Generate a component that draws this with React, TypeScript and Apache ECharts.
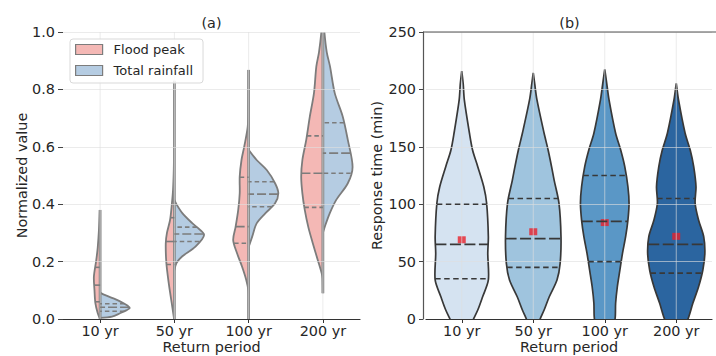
import React, { useEffect, useRef } from "react";
import * as echarts from "echarts";

// ---------------- data ----------------
const categories = ["10 yr", "50 yr", "100 yr", "200 yr"];

// Panel (a): split violins (left half = Flood peak, right half = Total rainfall)
// levels = normalized value, density = relative half-width (1 = widest half)
const floodLevels = [
  [0, 0.02, 0.055, 0.1, 0.147, 0.205, 0.25, 0.31, 0.38],
  [0, 0.056, 0.125, 0.195, 0.264, 0.3, 0.345, 0.4, 0.45, 0.52, 0.6, 0.7, 0.83],
  [0, 0.05, 0.1, 0.136, 0.182, 0.229, 0.275, 0.32, 0.38, 0.438, 0.496, 0.554, 0.6, 0.67, 0.75, 0.868],
  [0.09, 0.14, 0.159, 0.205, 0.264, 0.32, 0.38, 0.438, 0.496, 0.554, 0.624, 0.705, 0.787, 0.88, 0.93, 1.0, 1.05],
];
const floodDensity = [
  [0, 0.08, 0.16, 0.19, 0.21, 0.13, 0.08, 0.04, 0.01],
  [0.01, 0.09, 0.19, 0.27, 0.29, 0.25, 0.145, 0.085, 0.045, 0.02, 0.01, 0.007, 0.003],
  [0.003, 0.005, 0.01, 0.08, 0.22, 0.39, 0.52, 0.44, 0.35, 0.3, 0.3, 0.24, 0.15, 0.03, 0.01, 0.003],
  [0, 0.01, 0.04, 0.17, 0.34, 0.49, 0.61, 0.69, 0.73, 0.69, 0.56, 0.44, 0.3, 0.22, 0.13, 0.05, 0.02],
];
const floodQuartiles = [
  [0.06, 0.118, 0.18],
  [0.19, 0.27, 0.353],
  [0.264, 0.322, 0.494],
  [0.389, 0.508, 0.638],
];

const rainLevels = [
  [0.004, 0.008, 0.02, 0.03, 0.038, 0.046, 0.055, 0.064, 0.072, 0.084, 0.092],
  [0.17, 0.195, 0.217, 0.252, 0.293, 0.32, 0.334, 0.37, 0.4, 0.415],
  [0.25, 0.287, 0.333, 0.368, 0.403, 0.438, 0.473, 0.519, 0.554, 0.59],
  [0.3, 0.32, 0.368, 0.415, 0.473, 0.53, 0.624, 0.705, 0.787, 0.88, 0.93, 1.0, 1.05],
];
const rainDensity = [
  [0, 0.4, 0.67, 0.88, 1.0, 0.93, 0.79, 0.62, 0.45, 0.15, 0],
  [0, 0.07, 0.25, 0.71, 1.0, 0.76, 0.6, 0.26, 0.07, 0],
  [0, 0.12, 0.27, 0.56, 0.89, 1.0, 0.89, 0.61, 0.27, 0],
  [0, 0.06, 0.23, 0.45, 0.84, 1.0, 0.84, 0.67, 0.4, 0.24, 0.13, 0.05, 0.02],
];
const rainQuartiles = [
  [0.027, 0.041, 0.053],
  [0.27, 0.296, 0.32],
  [0.391, 0.435, 0.478],
  [0.508, 0.578, 0.684],
];

// Panel (b): response time violins (min)
const responseLevels = [
  [216, 205, 190.8, 161.8, 147, 132.7, 115.2, 100.8, 71.7, 57.2, 34, 19.4, 7.8, 0, -10, -22],
  [214.5, 205, 190.8, 161.8, 147.2, 132.7, 121, 100.8, 71.7, 48.5, 34, 19.4, 7.8, 0, -10, -20],
  [217.5, 205, 190.8, 161.8, 147, 132.7, 115.2, 100.8, 86.2, 71.7, 57.2, 42.7, 28.1, 13.7, 0, -15, -30],
  [205.3, 190.8, 161.8, 147, 132.7, 115.2, 100.8, 86.2, 71.7, 57.2, 42.7, 28.1, 13.7, 0, -10, -22],
];
const responseDensity = [
  [0, 0.05, 0.09, 0.27, 0.38, 0.56, 0.77, 0.87, 0.93, 0.91, 0.93, 0.73, 0.56, 0.41, 0.21, 0],
  [0, 0.05, 0.13, 0.38, 0.52, 0.64, 0.73, 0.9, 0.97, 0.94, 0.83, 0.56, 0.38, 0.24, 0.09, 0],
  [0, 0.07, 0.15, 0.38, 0.56, 0.7, 0.81, 0.85, 0.81, 0.73, 0.62, 0.53, 0.44, 0.38, 0.36, 0.21, 0],
  [0, 0.08, 0.31, 0.49, 0.61, 0.69, 0.66, 0.78, 0.96, 1.0, 0.93, 0.78, 0.58, 0.41, 0.21, 0],
];
const responseQuartiles = [
  [35, 65, 100],
  [45, 70, 105],
  [50, 85, 125],
  [40, 65, 105],
];
const responseMean = [69, 76, 84, 72];

// ---------------- styles ----------------
const FONT = "DejaVu Sans";
const TEXT = "#262626";
const GRID = "rgba(222,222,222,0.62)";
const PINK = "#f4b8b5";
const BLUE = "#b5cce2";
const GRAY = "#7c7c7c";
const VIOLIN_B = ["#d5e3f1", "#9fc4de", "#5a97c6", "#2b65a0"];
const DARK = "#383838";

function interp(levels: number[], dens: number[], v: number) {
  for (let k = 1; k < levels.length; k++) {
    const a = levels[k - 1];
    const b = levels[k];
    if ((v - a) * (v - b) <= 0 && a !== b) {
      const t = (v - a) / (b - a);
      return dens[k - 1] + t * (dens[k] - dens[k - 1]);
    }
  }
  return 0;
}

function halfViolin(levels: number[][], dens: number[][], side: number, fill: string) {
  return (params: any, api: any) => {
    const i = params.dataIndex;
    const cx = api.coord([i, 0])[0];
    const half = api.size([1, 0])[0] * 0.4;
    const L = levels[i];
    const D = dens[i];
    const pts = L.map((v, k) => [cx + side * D[k] * half, api.coord([i, v])[1]]);
    const y0 = api.coord([i, L[0]])[1];
    const y1 = api.coord([i, L[L.length - 1]])[1];
    return {
      type: "group",
      children: [
        { type: "polygon", shape: { points: [[cx, y0], ...pts, [cx, y1]] }, style: { fill } },
        { type: "polyline", shape: { points: pts, smooth: 0.3 }, style: { stroke: GRAY, lineWidth: 1.8, fill: null } },
      ],
    };
  };
}

function halfInner(levels: number[][], dens: number[][], quarts: number[][], side: number) {
  return (params: any, api: any) => {
    const i = params.dataIndex;
    const cx = api.coord([i, 0])[0];
    const half = api.size([1, 0])[0] * 0.4;
    const children: any[] = quarts[i].map((q, k) => {
      const w = interp(levels[i], dens[i], q) * half;
      const y = api.coord([i, q])[1];
      return {
        type: "line",
        shape: { x1: cx + side * w, y1: y, x2: cx, y2: y },
        style: { stroke: GRAY, lineWidth: 1.6, lineDash: k === 1 ? [9, 3] : [4.5, 3] },
      };
    });
    return { type: "group", children };
  };
}

function centerLine(params: any, api: any) {
  const i = params.dataIndex;
  const cx = api.coord([i, 0])[0];
  const lo = Math.min(...floodLevels[i], ...rainLevels[i]);
  const hi = Math.max(...floodLevels[i], ...rainLevels[i]);
  return {
    type: "line",
    shape: { x1: cx, y1: api.coord([i, lo])[1], x2: cx, y2: api.coord([i, hi])[1] },
    style: { stroke: "#888888", lineWidth: 2.8 },
  };
}

function fullViolin(params: any, api: any) {
  const i = params.dataIndex;
  const cx = api.coord([i, 0])[0];
  const half = api.size([1, 0])[0] * 0.4;
  const L = responseLevels[i];
  const D = responseDensity[i];
  const right = L.map((v, k) => [cx + D[k] * half, api.coord([i, v])[1]]);
  const left = L.map((v, k) => [cx - D[k] * half, api.coord([i, v])[1]]).reverse();
  return {
    type: "polygon",
    shape: { points: [...right, ...left], smooth: 0.3 },
    style: { fill: VIOLIN_B[i], stroke: DARK, lineWidth: 1.7 },
  };
}

function fullInner(params: any, api: any) {
  const i = params.dataIndex;
  const cx = api.coord([i, 0])[0];
  const half = api.size([1, 0])[0] * 0.4;
  const children: any[] = responseQuartiles[i].map((q, k) => {
    const w = interp(responseLevels[i], responseDensity[i], q) * half;
    const y = api.coord([i, q])[1];
    return {
      type: "line",
      shape: { x1: cx - w, y1: y, x2: cx + w, y2: y },
      style: { stroke: DARK, lineWidth: 1.6, lineDash: k === 1 ? [11, 3.5] : [5.5, 3.5] },
    };
  });
  return { type: "group", children };
}

function vGrid(params: any, api: any) {
  const i = params.dataIndex;
  const cx = api.coord([i, 0])[0];
  const cs = params.coordSys;
  return {
    type: "line",
    shape: { x1: cx, y1: cs.y, x2: cx, y2: cs.y + cs.height },
    style: { stroke: GRID, lineWidth: 1 },
  };
}

const idx = categories.map((_, i) => [i, 0]);

function xAxisFor(gridIndex: number) {
  return {
    type: "category",
    gridIndex,
    data: categories,
    boundaryGap: true,
    z: 5,
    axisLine: { show: true, lineStyle: { color: "#333", width: 1.2 } },
    axisTick: { show: true, alignWithLabel: true, length: 4, lineStyle: { color: "#333" } },
    axisLabel: { margin: 3, fontSize: 14.4, lineHeight: 17, color: TEXT, fontFamily: FONT, interval: 0 },
    splitLine: { show: false },
    name: "Return period",
    nameLocation: "middle",
    nameGap: 20,
    nameMoveOverlap: false,
    nameTextStyle: { fontSize: 14.4, lineHeight: 16, color: TEXT, fontFamily: FONT },
  };
}

function customSeries(name: string, gridIndex: number, z: number, renderItem: any, extra: any = {}) {
  return {
    name,
    type: "custom",
    xAxisIndex: gridIndex,
    yAxisIndex: gridIndex,
    clip: true,
    z,
    renderItem,
    data: idx,
    ...extra,
  };
}

const option: any = {
  animation: false,
  textStyle: { fontFamily: FONT },
  grid: [
    { left: 63, top: 32, width: 297, height: 287, outerBoundsMode: "none", containLabel: false },
    { left: 426, top: 32, width: 286, height: 287, outerBoundsMode: "none", containLabel: false },
  ],
  xAxis: [xAxisFor(0), xAxisFor(1)],
  yAxis: [
    {
      type: "value",
      gridIndex: 0,
      min: 0,
      max: 1,
      interval: 0.2,
      z: 5,
      axisLine: { show: true, lineStyle: { color: "rgba(0,0,0,0)" } },
      axisTick: { show: true, length: 5, lineStyle: { color: "#444" } },
      axisLabel: { margin: 8, fontSize: 14.4, color: TEXT, fontFamily: FONT, formatter: (v: number) => v.toFixed(1) },
      splitLine: { show: true, lineStyle: { color: GRID, width: 1 } },
      name: "Normalized value",
      nameLocation: "middle",
      nameGap: 34,
      nameRotate: 90,
      nameMoveOverlap: false,
      nameTextStyle: { fontSize: 14.4, color: TEXT, fontFamily: FONT },
    },
    {
      type: "value",
      gridIndex: 1,
      min: 0,
      max: 250,
      interval: 50,
      offset: 3,
      z: 5,
      axisLine: { show: true, lineStyle: { color: "#555", width: 1.2 } },
      axisTick: { show: true, length: 4, lineStyle: { color: "#444" } },
      axisLabel: { margin: 7, fontSize: 14.4, color: TEXT, fontFamily: FONT },
      splitLine: { show: true, lineStyle: { color: GRID, width: 1 } },
      name: "Response time (min)",
      nameLocation: "middle",
      nameGap: 39,
      nameRotate: 90,
      nameMoveOverlap: false,
      nameTextStyle: { fontSize: 14.4, color: TEXT, fontFamily: FONT },
    },
  ],
  legend: {
    orient: "vertical",
    left: 70,
    top: 39,
    z: 7,
    padding: [4, 10, 6, 5],
    itemGap: 8,
    itemWidth: 27,
    itemHeight: 10,
    backgroundColor: "rgba(255,255,255,0.85)",
    borderColor: "#d9d9d9",
    borderWidth: 1,
    borderRadius: 3,
    textStyle: { fontSize: 13, color: TEXT, fontFamily: FONT, padding: [0, 0, 0, 6] },
    data: [
      { name: "Flood peak", icon: "rect", itemStyle: { color: PINK, borderColor: GRAY, borderWidth: 1.2 } },
      { name: "Total rainfall", icon: "rect", itemStyle: { color: BLUE, borderColor: GRAY, borderWidth: 1.2 } },
    ],
  },
  graphic: [
    {
      type: "text",
      x: 211.5,
      y: 22.5,
      z: 10,
      style: { text: "(a)", align: "center", verticalAlign: "middle", fontSize: 14.4, fill: TEXT, fontFamily: FONT },
    },
    {
      type: "text",
      x: 569.5,
      y: 22.5,
      z: 10,
      style: { text: "(b)", align: "center", verticalAlign: "middle", fontSize: 14.4, fill: TEXT, fontFamily: FONT },
    },
    {
      type: "line",
      z: 10,
      shape: { x1: 423, y1: 32, x2: 716, y2: 32 },
      style: { stroke: "#555", lineWidth: 1.2 },
    },
  ],
  series: [
    customSeries("Flood peak", 0, 2, halfViolin(floodLevels, floodDensity, -1, PINK), { itemStyle: { color: PINK } }),
    customSeries("Total rainfall", 0, 2, halfViolin(rainLevels, rainDensity, 1, BLUE), { itemStyle: { color: BLUE } }),
    customSeries("center", 0, 3, centerLine, { silent: true }),
    customSeries("vgrid-a", 0, 5, vGrid, { silent: true, clip: false }),
    customSeries("inner-flood", 0, 6, halfInner(floodLevels, floodDensity, floodQuartiles, -1), { silent: true }),
    customSeries("inner-rain", 0, 6, halfInner(rainLevels, rainDensity, rainQuartiles, 1), { silent: true }),
    customSeries("Response time", 1, 2, fullViolin),
    {
      name: "Mean",
      type: "scatter",
      xAxisIndex: 1,
      yAxisIndex: 1,
      z: 3,
      symbol: "rect",
      symbolSize: [8, 7],
      itemStyle: { color: "#e8212b" },
      data: responseMean.map((m, i) => [i, m]),
    },
    customSeries("vgrid-b", 1, 5, vGrid, { silent: true, clip: false }),
    customSeries("inner-b", 1, 6, fullInner, { silent: true }),
  ],
};

export default function App() {
  const ref = useRef<HTMLDivElement>(null);
  useEffect(() => {
    const chart = echarts.init(ref.current as HTMLDivElement, null, { renderer: "svg" });
    chart.setOption(option);
    return () => chart.dispose();
  }, []);
  return <div ref={ref} style={{ position: "absolute", left: 0, top: 0, width: 716, height: 356 }} />;
}
